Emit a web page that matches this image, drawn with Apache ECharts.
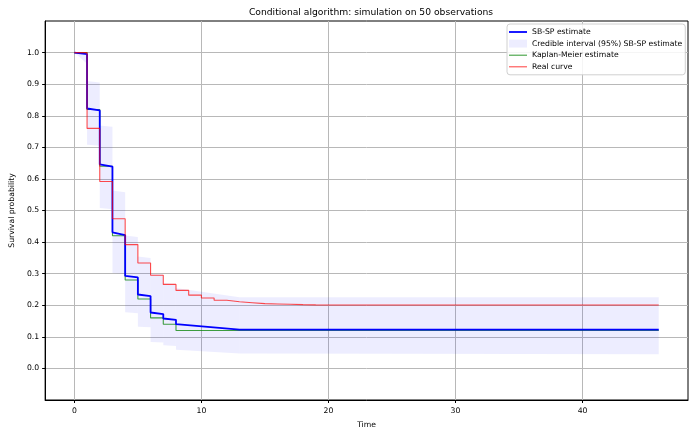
<!DOCTYPE html>
<html>
<head>
<meta charset="utf-8">
<script src="https://cdn.jsdelivr.net/npm/echarts@6/dist/echarts.min.js"></script>
<style>
  html, body { margin: 0; padding: 0; background: #fff; }
  #chart { width: 689px; height: 434px; }
</style>
</head>
<body>
<div id="chart"></div>
<script>
// SB-SP estimate (piecewise, with the drops written as repeated times)
var sbspTime = [0, 1, 1, 2, 2, 3, 3, 4, 4, 5, 5, 6, 6, 7, 7, 8, 8, 13, 46];
var sbspProb = [1.0, 0.995, 0.823, 0.817, 0.646, 0.639, 0.431, 0.422, 0.293, 0.288,
  0.234, 0.229, 0.177, 0.172, 0.158, 0.154, 0.140, 0.123, 0.123];

// credible interval (95%), one piece per interval
var ciStart = [0, 1, 2, 3, 4, 5, 6, 7, 8, 13];
var ciEnd = [1, 2, 3, 4, 5, 6, 7, 8, 13, 46];
var ciUpStart = [1.0, 0.910, 0.769, 0.563, 0.421, 0.354, 0.300, 0.270, 0.255, 0.225];
var ciUpEnd = [1.0, 0.905, 0.765, 0.558, 0.416, 0.350, 0.297, 0.267, 0.225, 0.225];
var ciLoStart = [1.0, 0.708, 0.508, 0.302, 0.178, 0.132, 0.084, 0.073, 0.059, 0.047];
var ciLoEnd = [0.965, 0.705, 0.504, 0.299, 0.175, 0.130, 0.082, 0.071, 0.047, 0.045];

// Kaplan-Meier estimate
var kmTime = [0, 1, 2, 3, 4, 5, 6, 7, 8, 46];
var kmProb = [1.0, 0.82, 0.64, 0.42, 0.28, 0.22, 0.16, 0.14, 0.12, 0.12];

// real curve
var realTime = [0, 1, 2, 3, 4, 5, 6, 7, 8, 9, 10, 11, 12, 13, 14, 15, 16, 17, 18, 19, 20, 46];
var realProb = [1.0, 0.760, 0.592, 0.474, 0.392, 0.334, 0.295, 0.266, 0.247, 0.232, 0.223,
  0.216, 0.211, 0.208, 0.205, 0.204, 0.203, 0.202, 0.2013, 0.2009, 0.2006, 0.2006];

var xTicks = [0, 10, 20, 30, 40];
var yTicks = [0.0, 0.1, 0.2, 0.3, 0.4, 0.5, 0.6, 0.7, 0.8, 0.9, 1.0];

function pairs(xs, ys) {
  var out = [];
  for (var i = 0; i < xs.length; i++) out.push([xs[i], ys[i]]);
  return out;
}

var ciData = [];
for (var i = 0; i < ciStart.length; i++) {
  ciData.push([ciStart[i], ciEnd[i], ciUpStart[i], ciUpEnd[i], ciLoStart[i], ciLoEnd[i]]);
}

var font = 'DejaVu Sans';
var blue = '#0000ff';
var green = 'rgba(0,128,0,0.75)';
var red = 'rgba(255,0,0,0.7)';
var band = 'rgba(0,0,255,0.07)';

var chart = echarts.init(document.getElementById('chart'));

var option = {
  animation: false,
  backgroundColor: '#ffffff',
  textStyle: { fontFamily: font },
  title: {
    text: 'Conditional algorithm: simulation on 50 observations',
    left: 366,
    textAlign: 'center',
    top: 3,
    textStyle: { fontFamily: font, fontSize: 9.2, fontWeight: 'normal', color: '#000' }
  },
  legend: {
    left: 507,
    top: 24,
    orient: 'vertical',
    backgroundColor: 'rgba(255,255,255,0.85)',
    borderColor: '#d0d0d0',
    borderWidth: 1,
    borderRadius: 3,
    padding: [4, 3, 4, 2],
    itemWidth: 18,
    itemHeight: 8,
    itemGap: 3.6,
    textStyle: { fontFamily: font, fontSize: 7.7, color: '#000' },
    data: [
      { name: 'SB-SP estimate', icon: 'path://M0,0 L18,0 L18,1.8 L0,1.8 Z', itemStyle: { color: blue } },
      { name: 'Credible interval (95%) SB-SP estimate', icon: 'rect', itemStyle: { color: band } },
      { name: 'Kaplan-Meier estimate', icon: 'path://M0,0 L18,0 L18,1.1 L0,1.1 Z', itemStyle: { color: green } },
      { name: 'Real curve', icon: 'path://M0,0 L18,0 L18,1.1 L0,1.1 Z', itemStyle: { color: red } }
    ]
  },
  grid: {
    left: 43,
    right: 1,
    top: 21,
    bottom: 28,
    show: true,
    borderColor: '#000',
    borderWidth: 1
  },
  xAxis: {
    type: 'value',
    min: -2.3,
    max: 48.3,
    name: 'Time',
    nameLocation: 'middle',
    nameGap: 21,
    nameTextStyle: { fontFamily: font, fontSize: 7.7, color: '#000' },
    axisLine: { onZero: false, lineStyle: { color: '#000', width: 1 } },
    axisTick: { customValues: xTicks, length: 3, lineStyle: { color: '#000' } },
    axisLabel: { customValues: xTicks, margin: 7, fontFamily: font, fontSize: 7.7, color: '#000' },
    splitLine: { show: true, lineStyle: { color: '#b8b8b8', width: 1 } }
  },
  yAxis: {
    type: 'value',
    min: -0.1,
    max: 1.1,
    name: 'Survival probability',
    nameLocation: 'middle',
    nameGap: 22,
    nameRotate: 90,
    nameTextStyle: { fontFamily: font, fontSize: 7.7, color: '#000' },
    axisLine: { show: true, onZero: false, lineStyle: { color: '#000', width: 1 } },
    axisTick: { show: true, customValues: yTicks, length: 3, lineStyle: { color: '#000' } },
    axisLabel: {
      customValues: yTicks,
      margin: 6,
      fontFamily: font,
      fontSize: 7.7,
      color: '#000',
      formatter: function (v) { return v.toFixed(1); }
    },
    splitLine: { show: true, lineStyle: { color: '#b8b8b8', width: 1 } }
  },
  series: [
    {
      name: 'Credible interval (95%) SB-SP estimate',
      type: 'custom',
      itemStyle: { color: band },
      encode: { x: [0, 1], y: [2, 3, 4, 5] },
      data: ciData,
      z: 1,
      renderItem: function (params, api) {
        var a = api.coord([api.value(0), api.value(2)]);
        var b = api.coord([api.value(1), api.value(3)]);
        var c = api.coord([api.value(1), api.value(5)]);
        var d = api.coord([api.value(0), api.value(4)]);
        return {
          type: 'polygon',
          shape: { points: [a, b, c, d] },
          style: { fill: band }
        };
      }
    },
    {
      name: 'Kaplan-Meier estimate',
      type: 'line',
      symbol: 'none',
      step: 'end',
      data: pairs(kmTime, kmProb),
      lineStyle: { color: green, width: 1.1 },
      itemStyle: { color: green },
      z: 3
    },
    {
      name: 'SB-SP estimate',
      type: 'line',
      symbol: 'none',
      data: pairs(sbspTime, sbspProb),
      lineStyle: { color: blue, width: 1.8 },
      itemStyle: { color: blue },
      z: 4
    },
    {
      name: 'Real curve',
      type: 'line',
      symbol: 'none',
      step: 'end',
      data: pairs(realTime, realProb),
      lineStyle: { color: red, width: 1.1 },
      itemStyle: { color: red },
      z: 5
    }
  ]
};

chart.setOption(option);
</script>
</body>
</html>
